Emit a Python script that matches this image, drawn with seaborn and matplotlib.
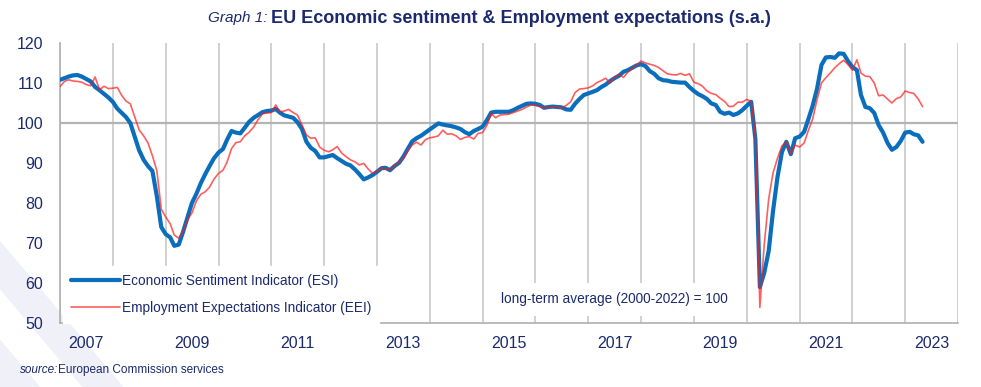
import numpy as np
import pandas as pd
import seaborn as sns
import matplotlib.pyplot as plt
import matplotlib.dates as mdates
from matplotlib.lines import Line2D
from matplotlib.patches import Polygon

# monthly values, Jan 2007 - May 2023
esi = [
    110.8, 111.2, 111.6, 111.9, 112.0, 111.6, 111.0, 110.4, 109.0, 108.2, 107.3, 106.4,  # 2007
    105.3, 103.6, 102.6, 101.5, 100.0, 96.5, 93.2, 90.8, 89.2, 88.0, 81.6, 74.0,        # 2008
    72.2, 71.4, 69.3, 69.6, 72.8, 76.5, 80.0, 82.3, 85.0, 87.2, 89.3, 91.2,             # 2009
    92.6, 93.5, 95.8, 98.0, 97.6, 97.4, 98.8, 100.3, 101.3, 102.0, 102.7, 103.0,        # 2010
    103.1, 103.5, 102.6, 101.9, 101.6, 101.3, 100.2, 98.5, 95.3, 93.8, 93.0, 91.4,      # 2011
    91.4, 91.7, 92.0, 91.2, 90.5, 89.8, 89.4, 88.4, 87.2, 85.9, 86.4, 87.0,             # 2012
    87.8, 88.7, 88.8, 88.2, 89.2, 90.0, 91.5, 93.5, 95.4, 96.2, 96.8, 97.6,             # 2013
    98.4, 99.2, 99.9, 99.6, 99.4, 99.2, 98.9, 98.5, 97.7, 97.2, 98.0, 98.5,             # 2014
    99.1, 100.8, 102.6, 102.8, 102.8, 102.8, 102.8, 103.2, 103.8, 104.3, 104.8, 104.9,  # 2015
    104.8, 104.5, 103.8, 104.0, 104.1, 104.0, 103.9, 103.4, 103.3, 104.8, 106.0, 107.0, # 2016
    107.4, 107.8, 108.2, 109.0, 109.6, 110.5, 111.2, 111.8, 112.8, 113.2, 113.8, 114.4, # 2017
    114.7, 114.2, 113.0, 112.3, 111.2, 110.7, 110.6, 110.3, 110.2, 110.1, 110.1, 109.0, # 2018
    108.0, 107.2, 106.7, 106.0, 104.9, 104.5, 102.8, 102.3, 102.6, 102.0, 102.4, 103.2, # 2019
    104.3, 105.3, 96.0, 59.0, 62.5, 68.0, 78.0, 86.5, 92.8, 95.3, 92.2, 96.2,           # 2020
    96.6, 97.8, 100.8, 104.3, 108.5, 114.5, 116.4, 116.5, 116.3, 117.4, 117.3, 115.5,   # 2021
    114.0, 113.2, 107.0, 104.0, 103.7, 102.5, 99.5, 97.6, 95.0, 93.3, 94.0, 95.5,       # 2022
    97.6, 97.8, 97.2, 96.9, 95.3,                                                       # 2023
]
eei = [
    109.1, 110.4, 110.8, 110.5, 110.4, 110.2, 109.6, 109.3, 111.5, 108.3, 109.2, 108.6,  # 2007
    108.7, 108.9, 107.0, 105.5, 104.8, 101.5, 98.3, 96.8, 95.0, 91.8, 88.0, 78.5,        # 2008
    76.5, 74.8, 72.0, 71.2, 73.0, 75.8, 77.5, 80.5, 82.2, 82.8, 84.0, 86.0,              # 2009
    87.4, 88.2, 90.2, 93.6, 95.1, 95.3, 96.8, 97.7, 99.0, 100.8, 102.3, 102.5,           # 2010
    102.6, 104.5, 102.8, 103.0, 103.4, 102.6, 102.0, 99.5, 97.0, 96.2, 96.3, 94.0,       # 2011
    93.2, 92.8, 93.3, 94.1, 92.5, 91.6, 90.8, 90.3, 89.5, 89.9, 88.5, 87.4,              # 2012
    88.0, 88.7, 88.6, 88.3, 89.3, 90.2, 91.2, 93.0, 94.5, 95.2, 94.5, 95.8,              # 2013
    96.3, 96.5, 96.8, 98.2, 97.2, 97.3, 96.8, 95.9, 96.4, 96.6, 96.0, 97.4,              # 2014
    97.6, 99.5, 102.4, 101.3, 102.0, 102.1, 102.2, 102.6, 103.0, 103.4, 104.0, 104.5,    # 2015
    104.4, 104.1, 103.7, 103.9, 104.1, 103.9, 103.7, 104.4, 105.3, 107.6, 108.5, 108.6,  # 2016
    108.8, 109.3, 110.1, 110.6, 111.2, 110.0, 111.5, 112.2, 111.4, 112.7, 113.7, 114.5,  # 2017
    115.5, 115.0, 114.7, 114.4, 113.9, 113.1, 112.3, 112.1, 112.0, 112.4, 111.9, 112.3,  # 2018
    110.2, 109.8, 109.2, 108.0, 107.4, 107.1, 106.2, 105.4, 104.1, 104.2, 105.2, 105.2,  # 2019
    105.9, 105.4, 96.5, 53.9, 69.5, 81.0, 87.5, 91.2, 94.3, 95.2, 92.4, 94.5,            # 2020
    94.0, 95.0, 98.0, 101.0, 105.8, 110.0, 111.3, 112.5, 113.8, 114.8, 115.7, 114.6,     # 2021
    113.2, 115.8, 112.5, 111.7, 111.6, 110.0, 106.8, 107.0, 106.0, 105.0, 106.1, 106.5,  # 2022
    108.0, 107.6, 107.4, 106.0, 104.1,                                                   # 2023
]
label_years = [2007, 2009, 2011, 2013, 2015, 2017, 2019, 2021, 2023]
y_ticks = [50, 60, 70, 80, 90, 100, 110, 120]

dates = pd.date_range("2007-01-01", periods=len(esi), freq="MS")
df = pd.DataFrame({"date": dates, "ESI": esi, "EEI": eei})

navy = "#1B2A6E"
blue = "#0A6EBD"
red = "#FF1A1A"

sns.set_style("white")
plt.rcParams["font.family"] = ["Liberation Sans", "DejaVu Sans"]

fig = plt.figure(figsize=(9.81, 3.87), dpi=100)

# faint background stripes, bottom left
for off in (0.0, 0.085):
    fig.patches.append(Polygon([[0.0 + off, 0.0], [0.04 + off, 0.0], [-0.11 + off, 0.45], [-0.15 + off, 0.45]],
                               closed=True, transform=fig.transFigure, color="#EFF0F8", zorder=-10))

ax = fig.add_axes([60 / 981, 1 - 323 / 387, 898 / 981, 280 / 387])
ax.set_facecolor("none")

sns.lineplot(data=df, x="date", y="ESI", ax=ax, color=blue, linewidth=3.0, zorder=3)
sns.lineplot(data=df, x="date", y="EEI", ax=ax, color=red, alpha=0.7, linewidth=1.2, zorder=4)

ax.set_xlim(pd.Timestamp("2007-01-01"), pd.Timestamp("2024-01-01"))
ax.set_ylim(50, 120)
ax.set_yticks(y_ticks)
ax.set_yticklabels([str(v) for v in y_ticks])

ax.xaxis.set_major_locator(mdates.YearLocator())
ax.xaxis.set_major_formatter(plt.NullFormatter())
mid = mdates.date2num(pd.to_datetime([f"{y}-07-01" for y in label_years]))
ax.set_xticks(mid, minor=True)
ax.set_xticklabels([str(y) for y in label_years], minor=True)
ax.tick_params(axis="x", which="major", length=0)
ax.tick_params(axis="x", which="minor", length=0, pad=9, labelsize=11.5, labelcolor=navy)
ax.tick_params(axis="y", length=0, pad=12, labelsize=11.5, labelcolor=navy)

ax.grid(axis="x", which="major", color="#C8C8C8", linewidth=1.2)
ax.axhline(100, color="#B4B4B4", linewidth=1.6, zorder=1)
ax.set_xlabel("")
ax.set_ylabel("")
for s in ("top", "right"):
    ax.spines[s].set_visible(False)
for s in ("left", "bottom"):
    ax.spines[s].set_color("#B0B0B0")
    ax.spines[s].set_linewidth(1.2)

handles = [Line2D([], [], color=blue, linewidth=3.0),
           Line2D([], [], color=red, alpha=0.7, linewidth=1.2)]
leg = ax.legend(handles, ["Economic Sentiment Indicator (ESI)", "Employment Expectations Indicator (EEI)"],
                loc="lower left", bbox_to_anchor=(0.0, -0.01), frameon=True, fancybox=False,
                framealpha=1, edgecolor="white", fontsize=9.8, handlelength=3.6,
                handletextpad=0.15, labelspacing=0.95, borderpad=0.6, borderaxespad=0.2)
for t in leg.get_texts():
    t.set_color(navy)
leg.set_zorder(5)

ax.text(0.617, 0.085, "long-term average (2000-2022) = 100", transform=ax.transAxes,
        ha="center", va="center", fontsize=9.8, color=navy, zorder=5,
        bbox=dict(facecolor="white", edgecolor="none", pad=7))

fig.text(0.273, 0.953, "Graph 1:", fontsize=11, style="italic", color=navy, ha="right", va="center")
fig.text(0.276, 0.953, "EU Economic sentiment & Employment expectations (s.a.)", fontsize=13,
         fontweight="bold", color=navy, ha="left", va="center")
fig.text(0.02, 0.045, "source:", fontsize=8.5, style="italic", color=navy, ha="left", va="center")
fig.text(0.059, 0.045, "European Commission services", fontsize=8.5, color=navy, ha="left", va="center")

fig.savefig("out.png", dpi=100)
